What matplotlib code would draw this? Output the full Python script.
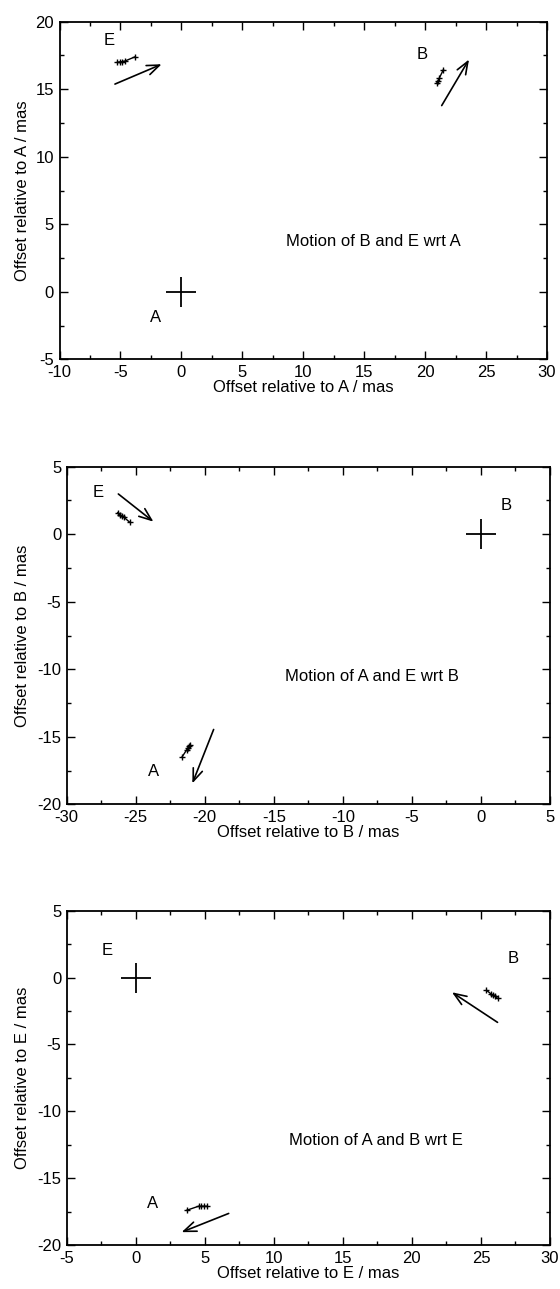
import matplotlib
matplotlib.use('Agg')
import matplotlib.pyplot as plt
from matplotlib.patches import FancyArrowPatch
from matplotlib.ticker import MultipleLocator

plt.rcParams['font.family'] = ['Liberation Sans', 'DejaVu Sans']
plt.rcParams['font.size'] = 12
plt.rcParams['axes.unicode_minus'] = False

# Panel 1: positions relative to A
p1_e_x = [-5.25, -5.05, -4.85, -4.65, -3.8]
p1_e_y = [17.0, 17.02, 17.05, 17.08, 17.4]
p1_b_x = [20.95, 21.05, 21.15, 21.5]
p1_b_y = [15.45, 15.6, 15.8, 16.45]
p1_arrows = [(-5.45, 15.38, -1.62, 16.85), (21.36, 13.79, 23.6, 17.2)]

# Panel 2: positions relative to B
p2_e_x = [-26.3, -26.15, -26.0, -25.85, -25.45]
p2_e_y = [1.6, 1.45, 1.35, 1.25, 0.9]
p2_a_x = [-21.65, -21.3, -21.2, -21.15, -21.1]
p2_a_y = [-16.5, -15.95, -15.8, -15.7, -15.6]
p2_arrows = [(-26.26, 2.98, -23.72, 0.93), (-19.36, -14.46, -20.9, -18.45)]

# Panel 3: positions relative to E
p3_a_x = [3.7, 4.55, 4.75, 4.95, 5.15]
p3_a_y = [-17.4, -17.1, -17.1, -17.1, -17.1]
p3_b_x = [25.4, 25.7, 25.85, 26.0, 26.2]
p3_b_y = [-0.95, -1.2, -1.3, -1.4, -1.55]
p3_arrows = [(26.2, -3.35, 22.9, -1.1), (6.73, -17.64, 3.32, -19.04)]

fig = plt.figure(figsize=(5.6, 12.89), dpi=100)
W, H = 560.0, 1289.0


def make_axes(left, right, top, bottom):
    return fig.add_axes([left / W, 1 - bottom / H, (right - left) / W, (bottom - top) / H])


def style(ax, xlim, ylim, ref, left_px):
    ax.set_xlim(*xlim)
    ax.set_ylim(*ylim)
    ax.xaxis.set_major_locator(MultipleLocator(5))
    ax.xaxis.set_minor_locator(MultipleLocator(2.5))
    ax.yaxis.set_major_locator(MultipleLocator(5))
    ax.yaxis.set_minor_locator(MultipleLocator(2.5))
    ax.tick_params(which='both', direction='in', top=True, right=True, width=1.0, colors='black')
    ax.tick_params(which='major', length=6, labelsize=12, pad=4)
    ax.tick_params(which='minor', length=3)
    for s in ax.spines.values():
        s.set_linewidth(1.3)
    ax.set_xlabel('Offset relative to %s / mas' % ref, fontsize=12, labelpad=0)
    ax.set_ylabel('Offset relative to %s / mas' % ref, fontsize=12)
    pos = ax.get_position()
    ax.yaxis.set_label_coords(-(left_px - 30) / (pos.width * W), 0.5)


def draw(ax, xs, ys, arrows):
    for x, y in zip(xs, ys):
        ax.plot(x, y, color='black', lw=1.0, marker='+', ms=4.5, mew=1.0)
    for x0, y0, x1, y1 in arrows:
        ax.add_patch(FancyArrowPatch((x0, y0), (x1, y1),
                                     arrowstyle='->,head_length=0.9,head_width=0.35',
                                     mutation_scale=10, color='black', lw=1.2,
                                     shrinkA=0, shrinkB=0))


def center(ax):
    ax.plot([0], [0], marker='+', ms=21, mew=1.3, color='black')


# Panel 1
ax1 = make_axes(59.5, 547, 21.7, 359.3)
style(ax1, (-10, 30), (-5, 20), 'A', 59.5)
center(ax1)
draw(ax1, [p1_e_x, p1_b_x], [p1_e_y, p1_b_y], p1_arrows)
ax1.text(-2.1, -1.9, 'A', ha='center', va='center')
ax1.text(-5.94, 18.58, 'E', ha='center', va='center')
ax1.text(19.76, 17.6, 'B', ha='center', va='center')
ax1.text(8.6, 3.76, 'Motion of B and E wrt A', ha='left', va='center')

# Panel 2
ax2 = make_axes(66.7, 550, 466.7, 804.3)
style(ax2, (-30, 5), (-20, 5), 'B', 66.7)
center(ax2)
draw(ax2, [p2_e_x, p2_a_x], [p2_e_y, p2_a_y], p2_arrows)
ax2.text(1.83, 2.16, 'B', ha='center', va='center')
ax2.text(-27.7, 3.1, 'E', ha='center', va='center')
ax2.text(-23.73, -17.6, 'A', ha='center', va='center')
ax2.text(-14.2, -10.5, 'Motion of A and E wrt B', ha='left', va='center')

# Panel 3
ax3 = make_axes(66.7, 550, 910.7, 1245)
style(ax3, (-5, 30), (-20, 5), 'E', 66.7)
center(ax3)
draw(ax3, [p3_a_x, p3_b_x], [p3_a_y, p3_b_y], p3_arrows)
ax3.text(-2.05, 2.05, 'E', ha='center', va='center')
ax3.text(1.18, -16.88, 'A', ha='center', va='center')
ax3.text(27.3, 1.45, 'B', ha='center', va='center')
ax3.text(11.1, -12.2, 'Motion of A and B wrt E', ha='left', va='center')

fig.savefig('out.png', dpi=100)
